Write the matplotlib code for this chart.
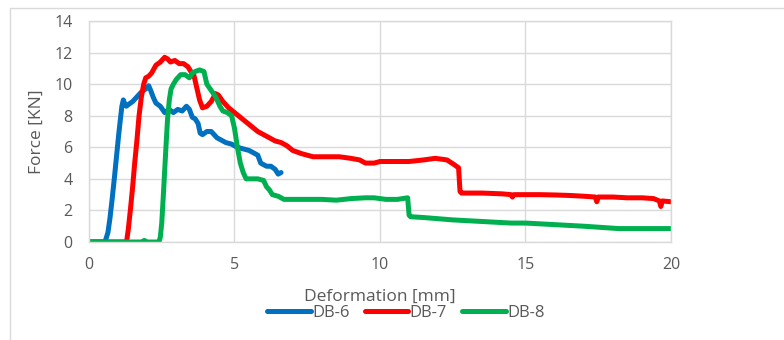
import matplotlib
matplotlib.use("Agg")
import matplotlib.pyplot as plt
from matplotlib.patches import Rectangle

# ---- data ----
db6_x = [0, 0.3, 0.55, 0.65, 0.72, 0.8, 0.88, 0.95, 1.02, 1.08, 1.13, 1.18, 1.22, 1.28, 1.35, 1.5,
         1.65, 1.8, 1.95, 2.05, 2.12, 2.2, 2.3, 2.45, 2.6, 2.75, 2.9, 3.05, 3.2, 3.35, 3.45, 3.55,
         3.65, 3.75, 3.82, 3.9, 4.05, 4.2, 4.3, 4.4, 4.5, 4.7, 4.9, 5.1, 5.3, 5.5, 5.7, 5.8, 5.9,
         6.0, 6.1, 6.25, 6.4, 6.5, 6.6]
db6_y = [0, 0, 0, 0.6, 1.5, 2.8, 4.2, 5.5, 6.8, 7.8, 8.6, 9.0, 8.8, 8.6, 8.7, 8.9,
         9.2, 9.5, 9.7, 9.9, 9.6, 9.2, 8.8, 8.6, 8.2, 8.4, 8.2, 8.4, 8.3, 8.6, 8.4, 7.9,
         7.8, 7.5, 6.9, 6.8, 7.0, 7.0, 6.8, 6.6, 6.5, 6.3, 6.2, 6.0, 5.9, 5.8, 5.6, 5.5, 5.0,
         4.9, 4.8, 4.8, 4.6, 4.3, 4.4]

db7_x = [0, 0.8, 1.29, 1.35, 1.42, 1.5, 1.57, 1.65, 1.72, 1.8, 1.88, 1.95, 2.05, 2.15, 2.3, 2.45,
         2.6, 2.7, 2.8, 2.95, 3.1, 3.25, 3.4, 3.5, 3.6, 3.7, 3.8, 3.9, 4.05, 4.2, 4.35, 4.45,
         4.6, 4.8, 5.0, 5.2, 5.4, 5.6, 5.8, 6.0, 6.2, 6.4, 6.6, 6.8, 7.0, 7.3, 7.7, 8.2, 8.6,
         9.0, 9.3, 9.5, 9.8, 10.0, 10.5, 11.0, 11.5, 11.9, 12.3, 12.55, 12.7, 12.75, 12.8,
         13.5, 14.2, 14.5, 14.55, 14.6, 15.0, 15.5, 16.0, 16.5, 17.0, 17.4, 17.45, 17.5,
         18.0, 18.5, 19.0, 19.4, 19.6, 19.65, 19.7, 20.0]
db7_y = [0, 0, 0, 0.8, 2.0, 3.5, 5.0, 6.5, 8.0, 9.2, 10.0, 10.4, 10.5, 10.7, 11.2, 11.4,
         11.7, 11.6, 11.4, 11.5, 11.3, 11.3, 11.1, 10.8, 10.6, 9.8, 9.0, 8.5, 8.6, 8.9, 9.4, 9.3,
         8.9, 8.5, 8.2, 7.9, 7.6, 7.3, 7.0, 6.8, 6.6, 6.4, 6.3, 6.1, 5.8, 5.6, 5.4, 5.4, 5.4,
         5.3, 5.2, 5.0, 5.0, 5.1, 5.1, 5.1, 5.2, 5.3, 5.2, 4.9, 4.7, 3.2, 3.1,
         3.1, 3.05, 3.0, 2.85, 3.0, 3.0, 3.0, 2.98, 2.95, 2.9, 2.85, 2.55, 2.85,
         2.85, 2.8, 2.8, 2.75, 2.6, 2.25, 2.6, 2.55]

db8_x = [0, 1.8, 1.9, 2.0, 2.4, 2.45, 2.5, 2.55, 2.6, 2.65, 2.7, 2.76, 2.82, 2.9, 3.0, 3.15,
         3.3, 3.45, 3.55, 3.65, 3.8, 3.95, 4.05, 4.2, 4.35, 4.5, 4.6, 4.75, 4.9, 5.0, 5.1, 5.2,
         5.3, 5.4, 5.6, 5.8, 6.0, 6.1, 6.2, 6.3, 6.5, 6.7, 7.0, 7.5, 8.0, 8.5, 9.0, 9.5, 9.8,
         10.2, 10.6, 10.95, 11.0, 11.05, 11.5, 12.5, 13.5, 14.5, 15.0, 16.0, 17.0, 17.8, 18.2,
         18.5, 19.0, 20.0]
db8_y = [0, 0, 0.1, 0, 0, 0.3, 1.2, 2.8, 4.5, 6.2, 7.8, 9.0, 9.7, 10.0, 10.3, 10.6,
         10.6, 10.4, 10.7, 10.8, 10.9, 10.8, 10.0, 9.6, 9.2, 8.6, 8.3, 8.2, 8.0, 7.2, 6.0, 5.0,
         4.4, 4.0, 4.0, 4.0, 3.9, 3.5, 3.3, 3.0, 2.9, 2.7, 2.7, 2.7, 2.7, 2.65, 2.75, 2.8, 2.8,
         2.7, 2.7, 2.8, 1.7, 1.6, 1.55, 1.4, 1.3, 1.2, 1.2, 1.1, 1.0, 0.9, 0.85,
         0.85, 0.85, 0.85]

x_ticks = [0, 5, 10, 15, 20]
y_ticks = [0, 2, 4, 6, 8, 10, 12, 14]
series_names = ["DB-6", "DB-7", "DB-8"]
colors = ["#0070C0", "#FF0000", "#00B050"]

plt.rcParams['font.family'] = ['Open Sans', 'DejaVu Sans']

fig = plt.figure(figsize=(7.84, 3.4), dpi=100)
ax_left, ax_right, ax_top, ax_bottom = 89, 671, 21, 242
ax = fig.add_axes([ax_left/784, (340-ax_bottom)/340, (ax_right-ax_left)/784, (ax_bottom-ax_top)/340])

# outer chart border
fig.patches.append(Rectangle((10/784, -0.05), 1.0, (340-8)/340 + 0.05,
                             transform=fig.transFigure, fill=False,
                             edgecolor="#d9d9d9", linewidth=1.0))

for (xs, ys), name, c in zip([(db6_x, db6_y), (db7_x, db7_y), (db8_x, db8_y)], series_names, colors):
    ax.plot(xs, ys, color=c, linewidth=3.6, label=name, solid_capstyle='round',
            solid_joinstyle='round')

ax.set_xlim(0, 20)
ax.set_ylim(0, 14)
ax.set_xticks(x_ticks)
ax.set_yticks(y_ticks)
ax.grid(True, color="#d9d9d9", linewidth=1.0)
ax.set_axisbelow(True)
for s in ax.spines.values():
    s.set_color("#d9d9d9")
    s.set_linewidth(1.0)
ax.tick_params(length=0, colors="#595959", labelsize=11.5)
ax.tick_params(axis='x', pad=11)
ax.tick_params(axis='y', pad=12)

ax.set_xlabel("Deformation [mm]", color="#595959", fontsize=12.5)
ax.set_ylabel("Force [KN]", color="#595959", fontsize=12.5)
w = ax_right - ax_left
h = ax_bottom - ax_top
ax.xaxis.set_label_coords(0.5, -(296.5 - ax_bottom) / h)
ax.xaxis.label.set_verticalalignment('center')
ax.yaxis.set_label_coords(-(ax_left - 37) / w, 0.5)
ax.yaxis.label.set_verticalalignment('center')

leg = fig.legend(loc="center", bbox_to_anchor=(406/784, (340-313)/340), ncol=3,
                 frameon=False, fontsize=12, handlelength=2.6, handletextpad=0.1,
                 columnspacing=0.9, labelcolor="#595959")
for hd in leg.legend_handles:
    hd.set_linewidth(3.6)

fig.savefig("out.png", dpi=100)
